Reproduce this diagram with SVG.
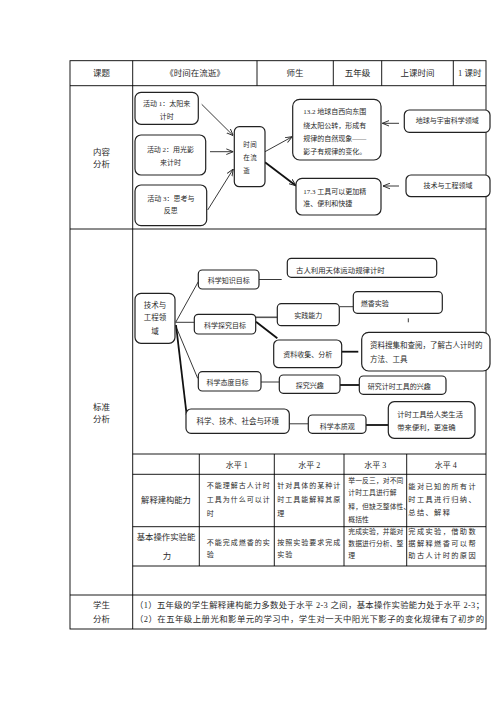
<svg xmlns="http://www.w3.org/2000/svg" width="496" height="702" viewBox="0 0 496 702">
<style>
text{font-family:"Liberation Serif","Noto Sans CJK SC",serif;fill:#2a2a2a}
.h{font-size:8.5px}
.d{font-size:7px}
.c{text-anchor:middle}
.tb{stroke:#000;stroke-width:0.9;fill:none}
.bx{fill:#fff;stroke:#222;stroke-width:1.2}
.ln{stroke:#222;stroke-width:0.9;fill:none}
.tk{stroke:#111;stroke-width:1.8;fill:none}
.gr{stroke:#555;stroke-width:1.6;fill:none}
.a{marker-end:url(#ah)}
.c12{font-size:7px;letter-spacing:1px}
.c3{font-size:6.8px;letter-spacing:0.1px}
.c4{font-size:7.2px;letter-spacing:1.4px}
</style>
<defs>
<marker id="ah" viewBox="0 0 10 10" refX="10" refY="5" markerWidth="7" markerHeight="7" markerUnits="userSpaceOnUse" orient="auto">
<path d="M0,1 L10,5 L0,9" fill="none" stroke="#222" stroke-width="1.3"/>
</marker>
</defs>
<rect width="496" height="702" fill="#fff"/>

<g id="table">
<rect class="tb" x="70" y="60.7" width="416" height="568.3"/>
<line class="tb" x1="70" y1="85.7" x2="486" y2="85.7"/>
<line class="tb" x1="70" y1="229" x2="486" y2="229"/>
<line class="tb" x1="70" y1="595" x2="486" y2="595"/>
<line class="tb" x1="132.7" y1="60.7" x2="132.7" y2="629"/>
<line class="tb" x1="257" y1="60.7" x2="257" y2="85.7"/>
<line class="tb" x1="333.3" y1="60.7" x2="333.3" y2="85.7"/>
<line class="tb" x1="381.7" y1="60.7" x2="381.7" y2="85.7"/>
<line class="tb" x1="453.3" y1="60.7" x2="453.3" y2="85.7"/>
<line class="tb" x1="132.7" y1="454" x2="486" y2="454"/>
<line class="tb" x1="132.7" y1="474.3" x2="486" y2="474.3"/>
<line class="tb" x1="132.7" y1="526.7" x2="486" y2="526.7"/>
<line class="tb" x1="132.7" y1="566" x2="486" y2="566"/>
<line class="tb" x1="199.3" y1="454" x2="199.3" y2="566"/>
<line class="tb" x1="274.3" y1="454" x2="274.3" y2="566"/>
<line class="tb" x1="344" y1="454" x2="344" y2="566"/>
<line class="tb" x1="406.7" y1="454" x2="406.7" y2="566"/>
<text class="h c" x="101.5" y="76.2">课题</text>
<text class="h c" x="195" y="76.2">《时间在流逝》</text>
<text class="h c" x="295" y="76.2">师生</text>
<text class="h c" x="357.5" y="76.2">五年级</text>
<text class="h c" x="417.5" y="76.2">上课时间</text>
<text class="h c" x="469.7" y="76.2">1 课时</text>
<text class="h c" x="101.5" y="154.7">内容</text>
<text class="h c" x="101.5" y="167.3">分析</text>
<text class="h c" x="101.5" y="409.7">标准</text>
<text class="h c" x="101.5" y="422.3">分析</text>
<text class="h c" x="101.5" y="608">学生</text>
<text class="h c" x="101.5" y="622">分析</text>
<text style="font-size:8px" class="c" x="236.8" y="467.5">水平 1</text>
<text style="font-size:8px" class="c" x="309.2" y="467.5">水平 2</text>
<text style="font-size:8px" class="c" x="375.3" y="467.5">水平 3</text>
<text style="font-size:8px" class="c" x="445.8" y="467.5">水平 4</text>
<text style="font-size:8.3px" class="c" x="166" y="503">解释建构能力</text>
<text style="font-size:8.4px" class="c" x="166" y="539.8">基本操作实验能</text>
<text style="font-size:8.4px" class="c" x="167" y="558.8">力</text>
<text class="c12" x="206.7" y="488.2">不能理解古人计时</text>
<text class="c12" x="206.7" y="501.8">工具为什么可以计</text>
<text class="c12" x="206.7" y="515.8">时</text>
<text class="c12" x="277.3" y="488.2">针对具体的某种计</text>
<text class="c12" x="277.3" y="501.8">时工具能解释其原</text>
<text class="c12" x="277.3" y="515.8">理</text>
<text class="c3" x="348.3" y="482.5">举一反三，对不同</text>
<text class="c3" x="348.3" y="495.2">计时工具进行解</text>
<text class="c3" x="348.3" y="508.5">释，但缺乏整体性、</text>
<text class="c3" x="348.3" y="521.5">概括性</text>
<text class="c4" x="408.3" y="489.2">能对已知的所有计</text>
<text class="c4" x="408.3" y="501.8">时工具进行归纳、</text>
<text class="c4" x="408.3" y="514.8">总结、解释</text>
<text class="c12" x="206.7" y="544.5">不能完成燃香的实</text>
<text class="c12" x="206.7" y="556.5">验</text>
<text class="c12" x="277.3" y="544.5">按照实验要求完成</text>
<text class="c12" x="277.3" y="556.5">实验</text>
<text class="c3" x="348.3" y="534.2">完成实验，并能对</text>
<text class="c3" x="348.3" y="545.8">数据进行分析、整</text>
<text class="c3" x="348.3" y="558.2">理</text>
<text class="c4" x="408.3" y="534.2">完成实验，借助数</text>
<text class="c4" x="408.3" y="545.8">据解释燃香可以帮</text>
<text class="c4" x="408.3" y="558.2">助古人计时的原因</text>
<text style="font-size:8.4px" x="135" y="608" textLength="349" lengthAdjust="spacing">（1）五年级的学生解释建构能力多数处于水平 2-3 之间，基本操作实验能力处于水平 2-3；</text>
<text style="font-size:8.4px" x="135" y="622" textLength="349" lengthAdjust="spacing">（2）在五年级上册光和影单元的学习中，学生对一天中阳光下影子的变化规律有了初步的</text>
</g>

<g id="connectors">
<line class="ln a" x1="201.7" y1="104.3" x2="233.3" y2="135.7"/>
<line class="ln a" x1="210" y1="151.7" x2="233.3" y2="151.7"/>
<line class="ln a" x1="207.7" y1="210" x2="233.3" y2="169"/>
<line class="ln a" x1="265" y1="151.7" x2="292.3" y2="136.7"/>
<line class="tk a" x1="265" y1="162.3" x2="296" y2="185.7"/>
<line class="ln a" x1="399" y1="123.3" x2="382.3" y2="123.3"/>
<line class="ln a" x1="399" y1="186" x2="383" y2="186"/>
<line class="ln" x1="175.7" y1="322.3" x2="198.3" y2="281.7"/>
<line class="ln" x1="175.7" y1="322.3" x2="194.3" y2="322.3"/>
<line class="ln" x1="176.7" y1="328.3" x2="197.7" y2="378.3"/>
<line class="tk" x1="176" y1="325" x2="186.7" y2="415"/>
<line class="ln" x1="259" y1="279.5" x2="281.7" y2="279.5"/>
<line class="gr" x1="255.7" y1="317.3" x2="277.3" y2="317.3"/>
<line class="tk" x1="256" y1="321.7" x2="277.3" y2="338.3"/>
<line class="ln" x1="339.3" y1="306.7" x2="353.3" y2="306.7"/>
<line class="tk" x1="341.7" y1="351.7" x2="358.3" y2="351.7"/>
<line class="ln" x1="256" y1="382" x2="279.3" y2="382"/>
<line class="tk" x1="340" y1="385" x2="359.3" y2="385"/>
<line class="ln" x1="289.3" y1="423.8" x2="308.3" y2="423.8"/>
<line class="tk" x1="366" y1="425" x2="388.3" y2="425"/>
<line class="ln" x1="408.3" y1="318.3" x2="408.3" y2="322.3"/>
</g>

<g id="act1"><rect class="bx" x="135" y="92.3" width="63.3" height="32" rx="6"/>
<text class="d c" x="166.7" y="105.8">活动 1：太阳来</text><text class="d c" x="166.7" y="118.5">计时</text></g>
<g id="act2"><rect class="bx" x="135" y="135" width="70.7" height="40" rx="6"/>
<text class="d c" x="170.5" y="151.5">活动 2：用光影</text><text class="d c" x="170.5" y="164.8">来计时</text></g>
<g id="act3"><rect class="bx" x="135" y="185" width="71.7" height="40.7" rx="6"/>
<text class="d c" x="170.8" y="200.8">活动 3：思考与</text><text class="d c" x="170.8" y="213.2">反思</text></g>
<g id="center"><rect class="bx" x="234.3" y="126.7" width="30.7" height="60" rx="5"/>
<text style="font-size:6.5px;letter-spacing:0.5px" x="243.3" y="146.5">时间</text>
<text style="font-size:6.5px;letter-spacing:0.5px" x="243.3" y="159.8">在流</text>
<text style="font-size:6.5px;letter-spacing:0.5px" x="243.3" y="172.5">逝</text></g>
<g id="std132"><rect class="bx" x="292.7" y="99.3" width="88.3" height="60.7" rx="7"/>
<text class="d" x="303.3" y="114.2">13.2 地球自西向东围</text>
<text class="d" x="303.3" y="128.2">绕太阳公转，形成有</text>
<text class="d" x="303.3" y="140.8">规律的自然现象——</text>
<text class="d" x="303.3" y="153.5">影子有规律的变化。</text></g>
<g id="std173"><rect class="bx" x="296" y="178.3" width="85" height="36.7" rx="6"/>
<text class="d" x="303.3" y="193.5">17.3 工具可以更加精</text>
<text class="d" x="303.3" y="205.8">准、便利和快捷</text></g>
<g id="earth"><rect class="bx" x="404.3" y="110" width="85.7" height="22.3" rx="5"/>
<text class="d c" x="447.2" y="123.2">地球与宇宙科学领域</text></g>
<g id="tech1"><rect class="bx" x="406" y="175" width="84" height="21.7" rx="5"/>
<text class="d c" x="448" y="188.2">技术与工程领域</text></g>

<g id="tech2"><rect class="bx" x="135" y="293.3" width="40" height="50" rx="6"/>
<text style="font-size:7.5px" class="c" x="155" y="307.5">技术与</text>
<text style="font-size:7.5px" class="c" x="155" y="319.8">工程领</text>
<text style="font-size:7.5px" class="c" x="155" y="333.5">域</text></g>
<g id="knowledge"><rect class="bx" x="198.3" y="270" width="60.7" height="19" rx="4"/>
<text class="d c" x="228.7" y="282.8">科学知识目标</text></g>
<g id="inquiry"><rect class="bx" x="194.3" y="314.3" width="61.4" height="19.7" rx="4"/>
<text class="d c" x="225" y="328.2">科学探究目标</text></g>
<g id="attitude"><rect class="bx" x="198.3" y="371.7" width="62.7" height="19.3" rx="4"/>
<text class="d c" x="227.5" y="384.8">科学态度目标</text></g>
<g id="stse"><rect class="bx" x="186" y="409" width="103.3" height="24.3" rx="5"/>
<text style="font-size:7.5px" class="c" x="237.7" y="423.5">科学、技术、社会与环境</text></g>
<g id="ancient"><rect class="bx" x="287.3" y="258.3" width="149.4" height="19" rx="4"/>
<text style="font-size:7.4px" x="296" y="272.5">古人利用天体运动规律计时</text></g>
<g id="practice"><rect class="bx" x="277.3" y="303.7" width="62" height="22" rx="4"/>
<text class="d c" x="308.3" y="317.5">实践能力</text></g>
<g id="incense"><rect class="bx" x="353.3" y="291.7" width="89" height="21.6" rx="4"/>
<text class="d" x="360.7" y="305.8">燃香实验</text></g>
<g id="collect"><rect class="bx" x="273.7" y="340" width="68" height="27.7" rx="5"/>
<text class="d c" x="307.7" y="356.8">资料收集、分析</text></g>
<g id="search"><rect class="bx" x="361.7" y="332.3" width="128.3" height="38.7" rx="7"/>
<text style="font-size:7.5px" x="370" y="348.2">资料搜集和查阅，了解古人计时的</text>
<text style="font-size:7.5px" x="370" y="361.5">方法、工具</text></g>
<g id="interest"><rect class="bx" x="279.3" y="375" width="60.7" height="18.3" rx="4"/>
<text class="d c" x="309.7" y="388.2">探究兴趣</text></g>
<g id="interest2"><rect class="bx" x="359.3" y="376" width="86.7" height="18.3" rx="4"/>
<text class="d" x="367.7" y="389.2">研究计时工具的兴趣</text></g>
<g id="nature"><rect class="bx" x="308.3" y="415" width="57.7" height="18.3" rx="4"/>
<text class="d c" x="337.2" y="428.5">科学本质观</text></g>
<g id="benefit"><rect class="bx" x="388.3" y="401.7" width="86.7" height="36.6" rx="6"/>
<text style="font-size:7.3px" x="397.3" y="416.8">计时工具给人类生活</text>
<text style="font-size:7.3px" x="397.3" y="429.5">带来便利，更准确</text></g>
</svg>
